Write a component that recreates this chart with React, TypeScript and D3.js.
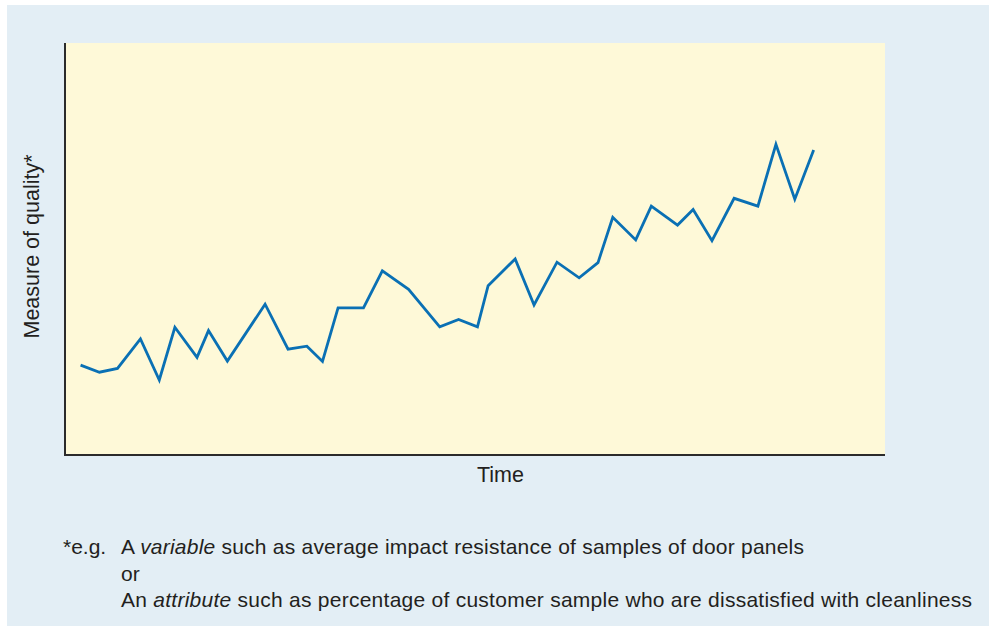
import React from "react";
import * as d3 from "d3";

const timePoints = [1.9, 4.2, 6.4, 9.2, 11.5, 13.4, 16.1, 17.5, 19.8, 24.4, 27.2, 29.5, 31.4, 33.3, 36.4, 38.7, 41.9, 45.7, 48.0, 50.3, 51.6, 54.9, 57.2, 60.0, 62.7, 65.0, 66.8, 69.6, 71.5, 74.7, 76.6, 78.9, 81.6, 84.5, 86.7, 89.0, 91.3];
const qualityValues = [21.8, 20.1, 21.0, 28.2, 18.2, 31.0, 23.7, 30.2, 22.8, 36.6, 25.7, 26.4, 22.7, 35.7, 35.7, 44.7, 40.2, 31.1, 32.9, 31.1, 41.1, 47.6, 36.4, 46.8, 43.0, 46.7, 57.7, 52.2, 60.4, 55.8, 59.6, 52.0, 62.3, 60.4, 75.4, 62.1, 74.0];

const xLabel = "Time";
const yLabel = "Measure of quality*";

const W = 989;
const H = 626;
const plot = { left: 65, right: 885, top: 43, bottom: 455 };

export default function App() {
  const x = d3.scaleLinear().domain([0, 100]).range([plot.left, plot.right]);
  const y = d3.scaleLinear().domain([0, 100]).range([plot.bottom, plot.top]);
  const data = timePoints.map((t, i) => [t, qualityValues[i]] as [number, number]);
  const line = d3
    .line<[number, number]>()
    .x((d) => x(d[0]))
    .y((d) => y(d[1]));

  const font = "'Liberation Sans', Arial, Helvetica, sans-serif";
  const textColor = "#231f20";

  return (
    <svg
      width={W}
      height={H}
      style={{ position: "absolute", left: 0, top: 0, display: "block" }}
      fontFamily={font}
    >
      <rect x={0} y={0} width={W} height={H} fill="#ffffff" />
      <rect x={7} y={5} width={W - 7} height={H - 5} fill="#e3eef5" />
      <rect
        x={plot.left}
        y={plot.top}
        width={plot.right - plot.left}
        height={plot.bottom - plot.top}
        fill="#fef9d8"
      />
      <path d={line(data) || ""} fill="none" stroke="#0a70b4" strokeWidth={2.8} strokeLinejoin="miter" />
      <path
        d={`M${plot.left},${plot.top}V${plot.bottom}H${plot.right}`}
        fill="none"
        stroke="#2b2b2b"
        strokeWidth={2}
      />
      <text x={500.5} y={482} textAnchor="middle" fontSize={21.5} fill={textColor}>
        {xLabel}
      </text>
      <text
        transform={`translate(39, ${(155 + 338) / 2}) rotate(-90)`}
        textAnchor="middle"
        fontSize={21.5}
        fill={textColor}
      >
        {yLabel}
      </text>
      <g fontSize={21} fill={textColor}>
        <text x={63} y={554}>*e.g.</text>
        <text x={121} y={554} textLength={683} lengthAdjust="spacing">
          A <tspan fontStyle="italic">variable</tspan> such as average impact resistance of samples of door panels
        </text>
        <text x={121} y={581}>or</text>
        <text x={121} y={607} textLength={851} lengthAdjust="spacing">
          An <tspan fontStyle="italic">attribute</tspan> such as percentage of customer sample who are dissatisfied with cleanliness
        </text>
      </g>
    </svg>
  );
}
